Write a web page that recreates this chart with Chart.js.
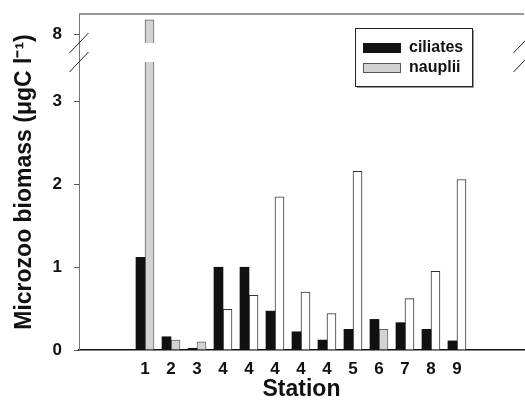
<!DOCTYPE html>
<html>
<head>
<meta charset="utf-8">
<script src="https://cdn.jsdelivr.net/npm/chart.js@4/dist/chart.umd.min.js"></script>
<style>
  html, body { margin: 0; padding: 0; background: #fff; }
  #wrap { width: 525px; height: 409px; }
</style>
</head>
<body>
<div id="wrap"><canvas id="chart" width="525" height="409"></canvas></div>
<script>
// station labels along the x axis
const stations = ['1', '2', '3', '4', '4', '4', '4', '4', '5', '6', '7', '8', '9'];
// biomass, ugC per litre
const ciliates = [1.12, 0.16, 0.02, 1.00, 1.00, 0.47, 0.22, 0.12, 0.25, 0.37, 0.33, 0.25, 0.11];
const nauplii  = [8.18, 0.12, 0.10, 0.49, 0.66, 1.85, 0.70, 0.44, 2.16, 0.25, 0.62, 0.95, 2.06];
// grey = measured in the first set, white = the others
const naupliiGrey = [true, true, true, false, false, false, false, false, false, true, false, false, false];
const yTicks = [0, 1, 2, 3, 8];

// broken axis: 0..lowTop, then a gap, then highBottom..yTop
const lowTop = 3.48, highBottom = 7.9, gap = 0.23, yTop = 8.25;
function toAxis(v) {
  return v <= lowTop ? v : v - highBottom + lowTop + gap;
}
function fromAxis(d) {
  return d <= lowTop ? d : d + highBottom - lowTop - gap;
}

const font = "'Liberation Sans', Arial, Helvetica, sans-serif";

const brokenAxis = {
  id: 'brokenAxis',
  afterDatasetsDraw(chart) {
    const ctx = chart.ctx;
    const area = chart.chartArea;
    const y = chart.scales.y;
    const yLow = y.getPixelForValue(lowTop);
    const yHigh = y.getPixelForValue(lowTop + gap);
    ctx.save();
    // white band cuts the tall bar
    ctx.fillStyle = '#fff';
    ctx.fillRect(area.left + 1, yHigh, area.right - area.left - 2, yLow - yHigh);
    // top frame line
    ctx.strokeStyle = '#777';
    ctx.lineWidth = 1.5;
    ctx.beginPath();
    ctx.moveTo(area.left, area.top);
    ctx.lineTo(area.right, area.top);
    ctx.stroke();
    // break marks
    ctx.strokeStyle = '#222';
    ctx.lineWidth = 1;
    [area.left, area.right - 1].forEach(x => {
      [yHigh, yLow].forEach(yy => {
        ctx.beginPath();
        ctx.moveTo(x - 9.5, yy + 10);
        ctx.lineTo(x + 9.5, yy - 10);
        ctx.stroke();
      });
    });
    ctx.restore();
  }
};

const boxLegend = {
  id: 'boxLegend',
  afterDraw(chart) {
    const ctx = chart.ctx;
    const bx = 355, by = 28, bw = 117, bh = 58;
    ctx.save();
    ctx.fillStyle = '#999';
    ctx.fillRect(bx + 2, by + 2, bw, bh);
    ctx.fillStyle = '#fff';
    ctx.fillRect(bx, by, bw, bh);
    ctx.strokeStyle = '#222';
    ctx.lineWidth = 1;
    ctx.strokeRect(bx + 0.5, by + 0.5, bw, bh);
    const rows = [
      { label: 'ciliates', fill: '#111', stroke: '#111', y: 48 },
      { label: 'nauplii', fill: '#d3d3d3', stroke: '#555', y: 68 }
    ];
    ctx.font = 'bold 16px ' + font;
    ctx.textBaseline = 'middle';
    rows.forEach(r => {
      ctx.fillStyle = r.fill;
      ctx.fillRect(363, r.y - 5, 38, 10);
      ctx.strokeStyle = r.stroke;
      ctx.strokeRect(363.5, r.y - 4.5, 37, 9);
      ctx.fillStyle = '#111';
      ctx.fillText(r.label, 409, r.y);
    });
    ctx.restore();
  }
};

new Chart(document.getElementById('chart'), {
  type: 'bar',
  data: {
    datasets: [
      {
        label: 'ciliates',
        data: ciliates.map((v, i) => ({ x: i + 1, y: toAxis(v) })),
        backgroundColor: '#111',
        borderColor: '#000',
        borderWidth: 0,
        barThickness: 9
      },
      {
        label: 'nauplii',
        data: nauplii.map((v, i) => ({ x: i + 1, y: toAxis(v) })),
        backgroundColor: naupliiGrey.map(g => g ? '#d3d3d3' : '#fff'),
        borderColor: naupliiGrey.map(g => g ? '#666' : '#333'),
        borderWidth: 1,
        barThickness: 9
      }
    ]
  },
  options: {
    responsive: false,
    animation: false,
    layout: { padding: { top: 14, right: 1, left: 0, bottom: 0 } },
    plugins: { legend: { display: false }, tooltip: { enabled: false } },
    scales: {
      x: {
        type: 'linear',
        min: -0.88,
        max: 14.92,
        grid: { display: false, drawTicks: false },
        border: { color: '#111', width: 1.5 },
        afterBuildTicks: s => { s.ticks = stations.map((_, i) => ({ value: i + 1 })); },
        afterFit: s => { s.height = 59; s.paddingLeft = 0; s.paddingRight = 0; },
        ticks: {
          autoSkip: false,
          maxRotation: 0,
          padding: 9,
          color: '#111',
          font: { family: font, size: 17, weight: 'bold' },
          callback: v => stations[v - 1]
        },
        title: {
          display: true,
          text: 'Station',
          color: '#111',
          padding: { top: 0, bottom: 6 },
          font: { family: font, size: 23, weight: 'bold' }
        }
      },
      y: {
        min: 0,
        max: toAxis(yTop),
        grid: { drawOnChartArea: false, drawTicks: true, tickLength: 5, color: '#555' },
        border: { color: '#777', width: 1 },
        afterBuildTicks: s => { s.ticks = yTicks.map(v => ({ value: toAxis(v) })); },
        afterFit: s => { s.width = 79; s.paddingTop = 0; s.paddingBottom = 0; },
        ticks: {
          padding: 12,
          color: '#111',
          font: { family: font, size: 17, weight: 'bold' },
          callback: v => String(Math.round(fromAxis(v)))
        },
        title: {
          display: true,
          text: 'Microzoo biomass (\u03bcgC l\u207b\u00b9)',
          color: '#111',
          padding: { top: 11, bottom: 0 },
          font: { family: font, size: 23, weight: 'bold' }
        }
      }
    }
  },
  plugins: [brokenAxis, boxLegend]
});
</script>
</body>
</html>
